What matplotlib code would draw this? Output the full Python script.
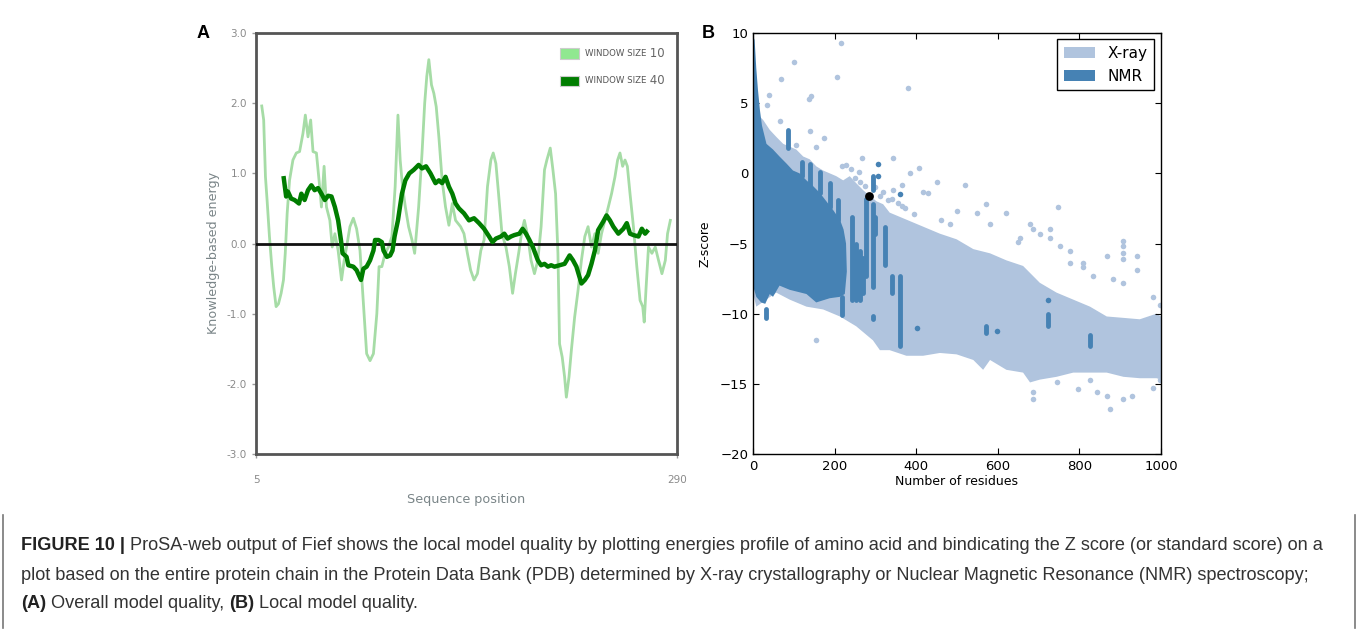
import matplotlib
matplotlib.use('Agg')
import matplotlib.pyplot as plt
from matplotlib.patches import Rectangle, Patch
from matplotlib.lines import Line2D

# ---------------- Panel A data (ProSA energy profile) ----------------
w10_res = [8.9, 10.2, 11.4, 12.5, 14.1, 15.7, 17.0, 18.6, 20.2, 22.0, 23.6, 24.8, 26.1, 27.7, 30.0,
           32.3, 34.5, 36.8, 38.4, 40.2, 42.0, 43.6, 45.9, 48.1, 49.3, 51.1, 52.7, 55.0, 56.6, 58.4,
           60.6, 62.9, 64.7, 66.3, 68.6, 70.9, 73.1, 75.4, 77.7, 79.9, 82.2, 84.5, 86.8, 88.3, 90.2,
           92.4, 94.7, 97.0, 99.2, 101.1, 102.6, 104.2, 106.1, 108.3, 110.6, 112.4, 115.1, 117.4, 119.2,
           120.6, 122.0, 123.8, 125.4, 127.0, 128.8, 131.0, 133.3, 135.6, 137.9, 140.1, 143.5, 145.8,
           148.1, 150.3, 152.6, 154.9, 157.2, 159.4, 161.7, 164.0, 165.6, 167.4, 169.2, 171.5, 174.2,
           176.5, 178.7, 180.6, 182.8, 185.1, 186.7, 189.0, 191.2, 193.5, 195.8, 198.0, 200.3, 201.9,
           204.2, 206.0, 207.8, 209.4, 210.5, 212.3, 213.9, 215.1, 216.9, 218.5, 220.7, 223.0, 225.3,
           227.6, 229.8, 232.1, 234.4, 236.6, 238.9, 241.2, 243.5, 245.7, 248.0, 249.8, 251.4, 253.2,
           254.8, 256.4, 258.2, 260.5, 262.8, 265.0, 266.8, 267.8, 269.1, 270.7, 273.0, 275.3, 277.5,
           279.8, 282.1, 283.6, 285.5]
w10_energy = [1.96, 1.76, 0.95, 0.62, 0.10, -0.33, -0.62, -0.90, -0.86, -0.71, -0.52, -0.14, 0.43, 0.90, 1.19,
              1.29, 1.31, 1.57, 1.83, 1.52, 1.76, 1.31, 1.29, 0.81, 0.52, 1.10, 0.52, 0.33, -0.05, 0.14,
              -0.10, -0.52, -0.24, -0.05, 0.24, 0.36, 0.21, -0.10, -0.86, -1.57, -1.67, -1.57, -1.00, -0.33, -0.33,
              -0.14, -0.05, 0.10, 0.81, 1.83, 1.19, 0.81, 0.52, 0.24, 0.05, -0.14, 0.52, 1.29, 2.00,
              2.38, 2.62, 2.26, 2.14, 1.95, 1.52, 0.90, 0.52, 0.26, 0.57, 0.33, 0.24, 0.14,
              -0.14, -0.38, -0.52, -0.43, -0.10, 0.05, 0.81, 1.19, 1.29, 1.14, 0.71, 0.14, -0.05,
              -0.33, -0.71, -0.43, -0.14, 0.19, 0.33, 0.10, -0.24, -0.43, -0.24, 0.24, 1.05, 1.19,
              1.36, 1.05, 0.71, -0.14, -1.43, -1.62, -1.90, -2.19, -1.90, -1.52, -1.05, -0.67, -0.24,
              0.10, 0.24, -0.05, 0.14, -0.14, 0.14, 0.33, 0.52, 0.71, 0.95, 1.19, 1.29, 1.10,
              1.19, 1.10, 0.71, 0.24, -0.33, -0.81, -0.90, -1.12, -0.62, -0.05, -0.14, -0.05, -0.24,
              -0.43, -0.24, 0.14, 0.33]

w40_res = [23.8, 25.4, 26.6, 28.8, 31.1, 34.1, 35.7, 37.9, 40.2, 42.5, 44.7, 47.0, 49.3, 51.6, 53.8,
           56.1, 58.4, 60.6, 62.5, 63.6, 66.3, 67.5, 70.9, 73.1, 76.1, 77.7, 79.9, 82.2, 84.5, 85.6,
           87.9, 90.2, 91.3, 93.6, 95.8, 97.4, 98.8, 101.1, 103.8, 106.1, 108.8, 111.8, 115.1, 117.4,
           120.1, 123.1, 126.5, 128.8, 131.0, 133.3, 135.6, 137.9, 140.1, 142.4, 145.8, 149.2, 152.6,
           156.0, 159.4, 162.8, 165.1, 167.4, 170.8, 173.1, 175.3, 177.6, 179.9, 183.3, 185.5, 187.8,
           190.1, 192.4, 195.8, 198.0, 200.3, 202.6, 204.8, 207.1, 210.5, 213.9, 217.3, 219.6, 221.9,
           225.3, 227.6, 229.8, 232.1, 234.4, 236.6, 240.0, 242.3, 244.6, 246.9, 250.3, 253.7, 256.0,
           258.2, 260.5, 263.9, 266.2, 268.4, 269.6]
w40_energy = [0.93, 0.67, 0.74, 0.64, 0.62, 0.57, 0.71, 0.62, 0.76, 0.83, 0.76, 0.79, 0.71, 0.62, 0.68,
              0.67, 0.52, 0.33, 0.05, -0.14, -0.19, -0.31, -0.33, -0.38, -0.52, -0.36, -0.33, -0.24, -0.10, 0.05,
              0.05, 0.02, -0.10, -0.19, -0.17, -0.10, 0.10, 0.33, 0.71, 0.90, 1.00, 1.05, 1.12, 1.07,
              1.10, 1.00, 0.86, 0.90, 0.86, 0.95, 0.81, 0.71, 0.57, 0.50, 0.43, 0.33, 0.36,
              0.29, 0.21, 0.10, 0.02, 0.07, 0.10, 0.14, 0.07, 0.10, 0.12, 0.14, 0.21, 0.14,
              0.05, -0.05, -0.24, -0.31, -0.29, -0.33, -0.31, -0.33, -0.31, -0.29, -0.17, -0.24, -0.33,
              -0.57, -0.52, -0.45, -0.29, -0.10, 0.19, 0.31, 0.40, 0.33, 0.24, 0.14, 0.21, 0.29,
              0.14, 0.12, 0.10, 0.21, 0.14, 0.17]

a_xticks = [5, 290]
a_yticks = [-3.0, -2.0, -1.0, 0.0, 1.0, 2.0, 3.0]
a_legend_labels = ["10", "40"]

# ---------------- Panel B data (ProSA Z-score plot) ----------------
# outline of the dense X-ray cloud
xray_up_x = [0, 8, 25, 41, 57, 74, 90, 106, 123, 139, 155, 172, 188, 204, 221, 237, 253, 270, 286, 303,
             319, 335, 376, 417, 458, 499, 540, 581, 621, 662, 703, 744, 785, 826, 867, 908, 948, 989, 1000]
xray_up_y = [5.5, 4.3, 3.8, 3.1, 2.6, 2.1, 1.9, 1.7, 1.2, 1.0, 0.5, 0.2, 0.0, -0.2, -0.5, -0.2, -0.7, -1.2,
             -1.6, -2.0, -2.2, -2.8, -3.3, -3.8, -4.3, -4.7, -5.4, -5.7, -6.2, -6.6, -7.8, -8.5, -9.0, -9.5,
             -10.2, -10.3, -10.4, -10.0, -10.2]
xray_lo_x = [0, 8, 57, 90, 131, 172, 213, 253, 294, 311, 335, 376, 417, 458, 499, 540, 564, 581, 621, 662,
             679, 703, 744, 785, 826, 867, 908, 948, 989, 1000]
xray_lo_y = [-8.5, -9.5, -8.5, -9.0, -9.5, -9.7, -10.2, -10.9, -11.9, -12.6, -12.6, -13.0, -13.0, -12.8,
             -12.9, -13.3, -14.0, -13.3, -14.0, -14.2, -14.9, -14.7, -14.5, -14.2, -14.2, -14.2, -14.5,
             -14.6, -14.6, -14.7]
# scattered X-ray structures outside the dense cloud
xray_pt_x = [215, 101, 207, 380, 68, 143, 137, 39, 34, 65, 139, 173, 106, 154, 268, 343, 217, 406, 386, 450,
             519, 364, 343, 417, 429, 572, 621, 748, 499, 548, 462, 482, 581, 679, 687, 703, 728, 654, 650,
             752, 908, 908, 908, 777, 809, 867, 940, 155, 940, 883, 908, 981, 998, 809, 834, 777, 797, 826,
             842, 867, 875, 908, 928, 744, 687, 687, 998, 981, 973, 728, 908,
             250, 262, 275, 300, 318, 330, 355, 372, 395, 240, 228, 260, 312, 340, 365]
xray_pt_y = [9.3, 7.9, 6.9, 6.1, 6.7, 5.5, 5.3, 5.6, 4.9, 3.7, 3.0, 2.5, 2.0, 1.9, 1.1, 1.1, 0.5, 0.4, 0.0, -0.6,
             -0.8, -0.8, -1.2, -1.3, -1.4, -2.2, -2.8, -2.4, -2.7, -2.8, -3.3, -3.6, -3.6, -3.6, -4.0, -4.3,
             -4.0, -4.6, -4.9, -5.2, -4.8, -5.2, -5.7, -5.5, -6.4, -5.9, -5.9, -11.9, -6.9, -7.5, -7.8, -8.8,
             -9.4, -6.7, -7.3, -6.4, -15.4, -14.7, -15.6, -15.9, -16.8, -16.1, -15.9, -14.9, -16.1, -15.6,
             -14.7, -15.3, -14.2, -4.6, -6.1,
             -0.3, -0.6, -0.9, -1.0, -1.3, -1.9, -2.1, -2.5, -2.9, 0.3, 0.6, 0.1, -1.6, -1.8, -2.3]
# outline of the dense NMR cloud
nmr_up_x = [0, 4, 8, 12, 17, 22, 33, 49, 65, 82, 98, 114, 131, 147, 164, 180, 196, 213, 222, 228, 230]
nmr_up_y = [9.8, 9.5, 7.5, 6.0, 4.5, 3.4, 2.1, 1.7, 1.2, 0.7, 0.2, 0.0, -0.5, -0.9, -1.4, -2.0, -2.6, -3.3,
            -4.0, -5.0, -7.0]
nmr_lo_x = [0, 8, 20, 30, 41, 49, 65, 90, 131, 155, 188, 213, 225, 230]
nmr_lo_y = [-8.0, -8.8, -9.2, -9.3, -8.6, -8.8, -8.0, -8.3, -8.6, -9.2, -8.9, -8.8, -8.6, -7.0]
# NMR vertical streaks: x, top, bottom
nmr_col_x = [87, 119, 139, 165, 188, 209, 243, 252, 262, 270, 278, 293, 293, 298, 323, 340, 361, 571, 722, 826, 217, 33, 293]
nmr_col_top = [3.1, 0.8, 0.7, 0.1, -0.7, -1.9, -3.1, -5.0, -5.5, -6.0, -1.8, -0.2, -2.2, -3.1, -3.8, -7.3, -7.3, -10.9, -10.0, -11.5, -8.8, -9.7, -10.2]
nmr_col_bot = [1.8, -0.2, -0.9, -1.4, -2.4, -3.3, -9.0, -9.0, -9.0, -8.5, -7.3, -1.2, -8.1, -4.3, -6.5, -8.5, -12.3, -11.4, -10.9, -12.3, -10.1, -10.3, -10.4]
nmr_pt_x = [307, 307, 361, 401, 599, 722]
nmr_pt_y = [0.7, -0.2, -1.5, -11.0, -11.2, -9.0]
query_x = [285]
query_z = [-1.65]

b_xticks = [0, 200, 400, 600, 800, 1000]
b_yticks = [-20, -15, -10, -5, 0, 5, 10]
b_legend = ["X-ray", "NMR"]

XRAY = '#b0c4de'
NMRC = '#4682b4'
LIGHTG = '#a6dca6'
DARKG = '#007d00'

W, H = 1357, 631
fig = plt.figure(figsize=(W / 100, H / 100), dpi=100)

def fr(x0, y0, x1, y1):
    return [x0 / W, 1 - y1 / H, (x1 - x0) / W, (y1 - y0) / H]

# ---------------- Panel A ----------------
axA = fig.add_axes(fr(256, 33, 677, 454))
axA.plot(w10_res, w10_energy, color=LIGHTG, lw=2.0, zorder=2)
axA.plot(w40_res, w40_energy, color=DARKG, lw=3.2, zorder=4, solid_joinstyle='round')
axA.axhline(0, color='#111111', lw=2.0, zorder=3)
axA.set_xlim(5, 290)
axA.set_ylim(-3, 3)
axA.set_xticks(a_xticks)
axA.set_yticks(a_yticks)
axA.set_yticklabels([f"{v:.1f}" for v in a_yticks])
axA.tick_params(axis='both', colors='#9a9a9a', labelcolor='#8a8a8a', labelsize=7.5, length=3, width=1)
axA.tick_params(axis='x', pad=12)
for s in axA.spines.values():
    s.set_color('#555555')
    s.set_linewidth(2)
axA.set_xlabel("Sequence position", color='#7a8588', fontsize=9.2)
axA.xaxis.set_label_coords(0.5, -(500 - 454) / 421, transform=axA.transAxes)
axA.xaxis.label.set_va('center')
axA.set_ylabel("Knowledge-based energy", color='#7a8588', fontsize=9.2)
axA.yaxis.set_label_coords(-(256 - 213) / 421, (454 - 253) / 421)
axA.yaxis.label.set_va('center')

# legend of panel A
for i, lab in enumerate(a_legend_labels):
    yc = 0.951 - i * 0.065
    col = '#90e890' if i == 0 else '#007d00'
    axA.add_patch(Rectangle((0.722, yc - 0.013), 0.045, 0.026, transform=axA.transAxes,
                            facecolor=col, edgecolor='#cccccc', lw=0.8, clip_on=False, zorder=6))
    t = axA.text(0.781, yc, "WINDOW SIZE", transform=axA.transAxes, fontsize=6.2, color='#555555',
                 va='center', ha='left', zorder=6)
    axA.annotate(" " + lab, xy=(1, 0.5), xycoords=t, va='center', ha='left',
                 fontsize=8.5, color='#666666', zorder=6)

# ---------------- Panel B ----------------
axB = fig.add_axes(fr(753, 33, 1161, 454))
axB.fill(xray_up_x + xray_lo_x[::-1], xray_up_y + xray_lo_y[::-1], color=XRAY, lw=0, zorder=1)
axB.scatter(xray_pt_x, xray_pt_y, s=16, color=XRAY, lw=0, zorder=1)
axB.fill(nmr_up_x + nmr_lo_x[::-1], nmr_up_y + nmr_lo_y[::-1], color=NMRC, lw=0, zorder=2)
axB.vlines(nmr_col_x, nmr_col_bot, nmr_col_top, color=NMRC, lw=3.5, zorder=2, capstyle='round')
axB.scatter(nmr_pt_x, nmr_pt_y, s=16, color=NMRC, lw=0, zorder=2)
axB.scatter(query_x, query_z, s=40, color='black', lw=0, zorder=5)
axB.set_xlim(0, 1000)
axB.set_ylim(-20, 10)
axB.set_xticks(b_xticks)
axB.set_yticks(b_yticks)
axB.set_yticklabels([str(v).replace('-', '\u2212') for v in b_yticks])
axB.tick_params(direction='in', top=True, right=True, length=4, width=0.8, labelsize=9.5, colors='black')
axB.tick_params(axis='x', pad=4)
for s in axB.spines.values():
    s.set_color('black')
    s.set_linewidth(1)
axB.set_xlabel("Number of residues", fontsize=9, labelpad=2)
axB.set_ylabel("Z-score", fontsize=9, labelpad=6)
leg = axB.legend(handles=[Patch(facecolor=XRAY, edgecolor='none'), Patch(facecolor=NMRC, edgecolor='none')],
                 labels=b_legend, loc='upper right', fontsize=11, fancybox=False, framealpha=1,
                 edgecolor='black', handlelength=2.0, handleheight=0.7, borderpad=0.45,
                 borderaxespad=0, handletextpad=0.8,
                 bbox_to_anchor=(1 - 7 / 408, 1 - 6 / 421))
leg.get_frame().set_linewidth(1)

# ---------------- panel letters ----------------
fig.text(203 / W, 1 - 33 / H, "A", fontsize=13, fontweight='bold', ha='center', va='center', family='Liberation Sans')
fig.text(708 / W, 1 - 33 / H, "B", fontsize=13, fontweight='bold', ha='center', va='center', family='Liberation Sans')

# ---------------- caption ----------------
cap_font = 'Liberation Sans'
cs = 13.1
ccol = '#333333'
t1 = fig.text(21 / W, 1 - 546 / H, "FIGURE 10 |", fontsize=cs, fontweight='bold', color='#222222',
              family=cap_font, va='center', ha='left')
axA.annotate(" ProSA-web output of Fief shows the local model quality by plotting energies profile of amino acid "
             "and bindicating the Z score (or standard score) on a",
             xy=(1, 0.5), xycoords=t1, va='center', ha='left', fontsize=cs, color=ccol, family=cap_font,
             annotation_clip=False)
fig.text(21 / W, 1 - 575 / H, "plot based on the entire protein chain in the Protein Data Bank (PDB) determined by "
         "X-ray crystallography or Nuclear Magnetic Resonance (NMR) spectroscopy;",
         fontsize=cs, color=ccol, family=cap_font, va='center', ha='left')
t3 = fig.text(21 / W, 1 - 603 / H, "(A)", fontsize=cs, fontweight='bold', color='#222222',
              family=cap_font, va='center', ha='left')
t4 = axA.annotate(" Overall model quality, ", xy=(1, 0.5), xycoords=t3, va='center', ha='left',
                  fontsize=cs, color=ccol, family=cap_font, annotation_clip=False)
t5 = axA.annotate("(B)", xy=(1, 0.5), xycoords=t4, va='center', ha='left', fontsize=cs,
                  fontweight='bold', color='#222222', family=cap_font, annotation_clip=False)
axA.annotate(" Local model quality.", xy=(1, 0.5), xycoords=t5, va='center', ha='left',
             fontsize=cs, color=ccol, family=cap_font, annotation_clip=False)

# caption frame side lines
fig.add_artist(Line2D([3 / W, 3 / W], [1 - 515 / H, 1 - 628 / H], color='#777777', lw=1.2))
fig.add_artist(Line2D([1355 / W, 1355 / W], [1 - 515 / H, 1 - 628 / H], color='#777777', lw=1.2))

fig.savefig("out.png", dpi=100)
